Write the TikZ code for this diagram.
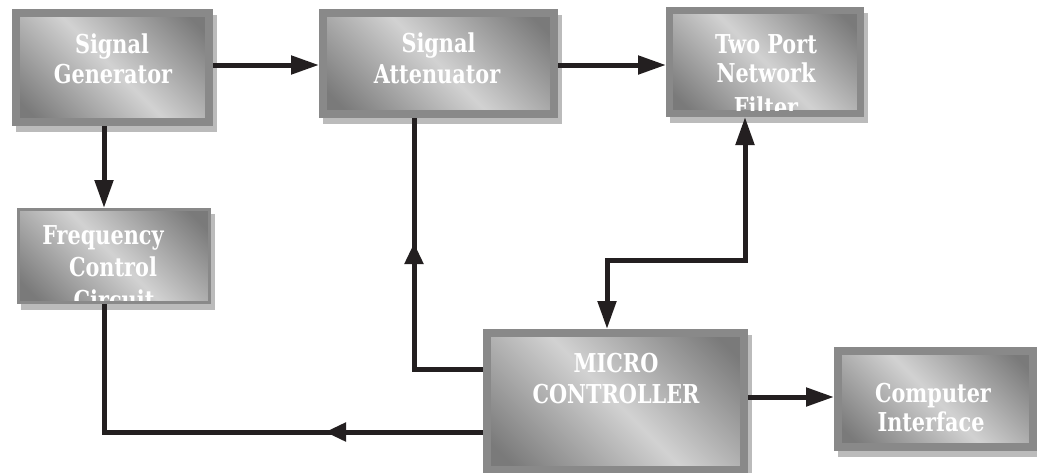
\documentclass[tikz,border=0pt]{standalone}
\usepackage{fontspec}
\setmainfont{DejaVu Serif}[FakeStretch=0.8]
\usetikzlibrary{arrows.meta,shadows,decorations.markings}
\definecolor{frame}{HTML}{898989}
\definecolor{shgray}{HTML}{BBBBBB}
\definecolor{dk}{HTML}{7A7A7A}
\definecolor{lt}{HTML}{D2D2D2}
\definecolor{ink}{HTML}{231F20}
\pgfdeclarehorizontalshading{boxshade}{100bp}{color(0bp)=(dk); color(20bp)=(dk); color(50bp)=(lt); color(80bp)=(dk); color(100bp)=(dk)}
\begin{document}
\begin{tikzpicture}[x=1pt,y=-1pt,
  block/.style={draw=frame, shading=boxshade, shading angle=45, inner sep=0pt,
    drop shadow={shadow xshift=4pt, shadow yshift=-6pt, fill=shgray, draw=shgray, opacity=1}},
  lbl/.style={anchor=base, inner sep=0pt, text=white, font=\bfseries\fontsize{26}{30}\selectfont},
  conn/.style={draw=ink, color=ink, line width=5pt},
  >={Triangle[length=28pt,width=18pt]},
  midtip/.style={postaction={decorate}, decoration={markings, mark=at position #1 with {\arrow{Triangle[length=21pt,width=18pt]}}}}
]
\fill[white] (0,0) rectangle (1037,472);
\useasboundingbox (0,0) rectangle (1037,472);

% boxes
\node[block, line width=8pt, minimum width=193pt, minimum height=109pt] (sg) at (112.5,67.5) {};
\node[block, line width=8pt, minimum width=231pt, minimum height=101pt] (sa) at (438.5,63.5) {};
\node[block, line width=7pt, minimum width=191pt, minimum height=103pt] (tp) at (765,62) {};
\node[block, line width=3pt, minimum width=191pt, minimum height=93pt] (fc) at (114,256) {};
\node[block, line width=8pt, minimum width=257pt, minimum height=137pt] (mc) at (615.5,401.5) {};
\node[block, line width=8pt, minimum width=195pt, minimum height=96pt] (ci) at (935.5,399) {};

% labels
\node[lbl] (sg1) at (112,53) {Signal};
\node[lbl] (sg2) at (113,83) {Generator};
\node[lbl] (sa1) at (438.5,52) {Signal};
\node[lbl] (sa2) at (437,83) {Attenuator};
\begin{scope}
  \clip (673,15) rectangle (857,110);
  \node[lbl] (tp1) at (766,53) {Two Port};
  \node[lbl] (tp2) at (766,82) {Network};
  \node[lbl] (tp3) at (766,116) {Filter};
\end{scope}
\begin{scope}
  \clip (20,211) rectangle (208,300);
  \node[lbl] (fc1) at (103,244) {Frequency};
  \node[lbl] (fc2) at (113,276) {Control};
  \node[lbl] (fc3) at (114,309) {Circuit};
\end{scope}
\node[lbl] (mc1) at (616,372) {MICRO};
\node[lbl] (mc2) at (616,403) {CONTROLLER};
\node[lbl] (ci1) at (933,402) {Computer};
\node[lbl] (ci2) at (931,431) {Interface};

% routing coordinates
\coordinate (ytop) at (0,65);
\coordinate (x104) at (104,0);
\coordinate (ysa) at (0,369);
\coordinate (x414) at (414,0);
\coordinate (ybot) at (0,432);
\coordinate (x745) at (745,0);
\coordinate (mid) at (607,260);
\coordinate (yci) at (0,397);

% connectors
\draw[conn,->] (sg.east |- ytop) -- (sa.west |- ytop);
\draw[conn,->] (sa.east |- ytop) -- (tp.west |- ytop);
\draw[conn,->] (sg.south -| x104) -- (fc.north -| x104);
\draw[conn,midtip=195pt] (mc.west |- ysa) -| (sa.south -| x414);
\draw[conn,midtip=158pt] (mc.west |- ybot) -| (fc.south -| x104);
\draw[conn,<->] (tp.south -| x745) |- (mid) -- (mc.north -| mid);
\draw[conn,->] (mc.east |- yci) -- (ci.west |- yci);
\end{tikzpicture}
\end{document}
